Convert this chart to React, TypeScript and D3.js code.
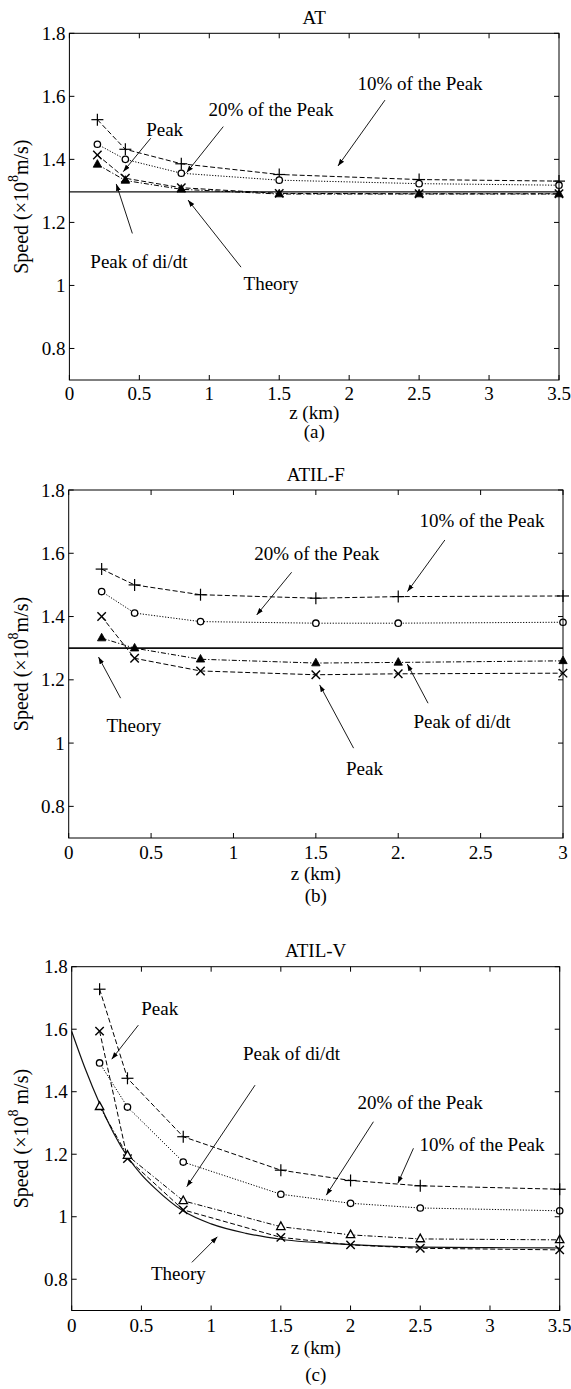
import React from 'react';
import * as d3 from 'd3';

const W = 571;
const H = 1389;

// ---- (a) AT ----
const zAT = [0.2, 0.4, 0.8, 1.5, 2.5, 3.5];
const atTenPct = [1.526, 1.432, 1.386, 1.352, 1.336, 1.331];
const atTwentyPct = [1.448, 1.4, 1.356, 1.334, 1.323, 1.318];
const atPeak = [1.414, 1.34, 1.31, 1.292, 1.291, 1.291];
const atDidt = [1.384, 1.333, 1.305, 1.29, 1.29, 1.29];
const atTheory = 1.297;

// ---- (b) ATIL-F ----
const zATILF = [0.2, 0.4, 0.8, 1.5, 2.0, 3.0];
const fTenPct = [1.55, 1.5, 1.469, 1.458, 1.463, 1.465];
const fTwentyPct = [1.479, 1.411, 1.384, 1.379, 1.379, 1.382];
const fPeak = [1.4, 1.268, 1.228, 1.216, 1.219, 1.221];
const fDidt = [1.332, 1.3, 1.265, 1.253, 1.255, 1.26];
const fTheory = 1.3;

// ---- (c) ATIL-V ----
const zATILV = [0.2, 0.4, 0.8, 1.5, 2.0, 2.5, 3.5];
const vTenPct = [1.728, 1.443, 1.256, 1.149, 1.116, 1.099, 1.088];
const vTwentyPct = [1.492, 1.351, 1.175, 1.072, 1.043, 1.028, 1.019];
const vPeak = [1.594, 1.186, 1.022, 0.934, 0.91, 0.899, 0.894];
const vDidt = [1.352, 1.196, 1.051, 0.968, 0.942, 0.929, 0.926];
const zTheoryV = [0, 0.1, 0.2, 0.3, 0.4, 0.5, 0.6, 0.8, 1.0, 1.25, 1.5, 2.0, 2.5, 3.0, 3.5];
const vTheory = [1.593, 1.47, 1.362, 1.268, 1.192, 1.135, 1.09, 1.018, 0.977, 0.947, 0.928, 0.911, 0.903, 0.901, 0.9];

const yTicks = [0.8, 1, 1.2, 1.4, 1.6, 1.8];
const xTicksAT = [0, 0.5, 1, 1.5, 2, 2.5, 3, 3.5];
const xTicksF = [0, 0.5, 1, 1.5, 2, 2.5, 3];
const xTickLabelsF = ['0', '0.5', '1', '1.5', '2.', '2.5', '3'];

const FONT = '"Liberation Serif", "Times New Roman", serif';

type MarkerKind = 'plus' | 'circle' | 'cross' | 'tri' | 'triOpen';
type Series = { z: number[]; v: number[]; marker: MarkerKind; dash: string };
type Note = { text: string; tx: number; ty: number; ax: number; ay: number; bx: number; by: number };

type PanelSpec = {
  title: string;
  caption: string;
  ylabelSpace: boolean;
  xMax: number;
  xTicks: number[];
  xTickLabels?: string[];
  px: [number, number];
  py: [number, number];
  series: Series[];
  theory: { z: number[]; v: number[] };
  theoryWidth: number;
  notes: Note[];
  offs: [number, number, number];
};

const panels: PanelSpec[] = [
  {
    title: 'AT',
    caption: '(a)',
    ylabelSpace: false,
    xMax: 3.5,
    xTicks: xTicksAT,
    px: [69.4, 559],
    py: [380, 33.3],
    series: [
      { z: zAT, v: atTenPct, marker: 'plus', dash: '5,2.5' },
      { z: zAT, v: atTwentyPct, marker: 'circle', dash: '1.2,1.6' },
      { z: zAT, v: atPeak, marker: 'cross', dash: '5,2.5' },
      { z: zAT, v: atDidt, marker: 'tri', dash: '5,2,1.2,2' },
    ],
    theory: { z: [0, 3.5], v: [atTheory, atTheory] },
    theoryWidth: 1.1,
    notes: [
      { text: '10% of the Peak', tx: 2.507, ty: 1.642, ax: 2.256, ay: 1.588, bx: 1.92, by: 1.379 },
      { text: '20% of the Peak', tx: 1.441, ty: 1.557, ax: 1.1, ay: 1.504, bx: 0.838, by: 1.358 },
      { text: 'Peak', tx: 0.681, ty: 1.496, ax: 0.581, ay: 1.467, bx: 0.385, by: 1.361 },
      { text: 'Peak of di/dt', tx: 0.497, ty: 1.075, ax: 0.45, ay: 1.165, bx: 0.335, by: 1.322 },
      { text: 'Theory', tx: 1.441, ty: 1.007, ax: 1.227, ay: 1.058, bx: 0.848, by: 1.271 },
    ],
    offs: [13, 32, 51],
  },
  {
    title: 'ATIL-F',
    caption: '(b)',
    ylabelSpace: false,
    xMax: 3,
    xTicks: xTicksF,
    xTickLabels: xTickLabelsF,
    px: [68.7, 563],
    py: [838, 490],
    series: [
      { z: zATILF, v: fTenPct, marker: 'plus', dash: '5,2.5' },
      { z: zATILF, v: fTwentyPct, marker: 'circle', dash: '1.2,1.6' },
      { z: zATILF, v: fPeak, marker: 'cross', dash: '5,2.5' },
      { z: zATILF, v: fDidt, marker: 'tri', dash: '5,2,1.2,2' },
    ],
    theory: { z: [0, 3], v: [fTheory, fTheory] },
    theoryWidth: 1.8,
    notes: [
      { text: '10% of the Peak', tx: 2.508, ty: 1.705, ax: 2.283, ay: 1.642, bx: 2.056, by: 1.479 },
      { text: '20% of the Peak', tx: 1.505, ty: 1.598, ax: 1.353, ay: 1.54, bx: 1.141, by: 1.405 },
      { text: 'Theory', tx: 0.396, ty: 1.057, ax: 0.315, ay: 1.142, bx: 0.181, by: 1.272 },
      { text: 'Peak', tx: 1.795, ty: 0.92, ax: 1.729, ay: 0.984, bx: 1.523, by: 1.184 },
      { text: 'Peak of di/dt', tx: 2.387, ty: 1.068, ax: 2.181, ay: 1.126, bx: 2.055, by: 1.25 },
    ],
    offs: [14, 35, 57],
  },
  {
    title: 'ATIL-V',
    caption: '(c)',
    ylabelSpace: true,
    xMax: 3.5,
    xTicks: xTicksAT,
    px: [71.7, 559.7],
    py: [1310.5, 966.7],
    series: [
      { z: zATILV, v: vTenPct, marker: 'plus', dash: '5,2.5' },
      { z: zATILV, v: vTwentyPct, marker: 'circle', dash: '1.2,1.6' },
      { z: zATILV, v: vPeak, marker: 'cross', dash: '5,2.5' },
      { z: zATILV, v: vDidt, marker: 'triOpen', dash: '5,2,1.2,2' },
    ],
    theory: { z: zTheoryV, v: vTheory },
    theoryWidth: 1.2,
    notes: [
      { text: 'Peak', tx: 0.631, ty: 1.667, ax: 0.478, ay: 1.613, bx: 0.287, by: 1.504 },
      { text: 'Peak of di/dt', tx: 1.577, ty: 1.523, ax: 1.315, ay: 1.421, bx: 0.825, by: 1.096 },
      { text: '20% of the Peak', tx: 2.499, ty: 1.365, ax: 2.164, ay: 1.304, bx: 1.826, by: 1.069 },
      { text: '10% of the Peak', tx: 2.943, ty: 1.232, ax: 2.451, ay: 1.219, bx: 2.339, by: 1.107 },
      { text: 'Theory', tx: 0.765, ty: 0.819, ax: 0.862, ay: 0.854, bx: 1.045, by: 0.936 },
    ],
    offs: [15, 37, 64],
  },
];

function Marker({ kind, x, y }: { kind: MarkerKind; x: number; y: number }) {
  const s = { stroke: '#000', strokeWidth: 1.2, fill: 'none' };
  if (kind === 'plus') {
    const r = 6;
    return (
      <g {...s}>
        <line x1={x - r} y1={y} x2={x + r} y2={y} />
        <line x1={x} y1={y - r} x2={x} y2={y + r} />
      </g>
    );
  }
  if (kind === 'cross') {
    const r = 4.2;
    return (
      <g {...s} strokeWidth={1.4}>
        <line x1={x - r} y1={y - r} x2={x + r} y2={y + r} />
        <line x1={x - r} y1={y + r} x2={x + r} y2={y - r} />
      </g>
    );
  }
  if (kind === 'circle') {
    return <circle cx={x} cy={y} r={3.2} {...s} strokeWidth={1.3} fill="#fff" />;
  }
  const pts = `${x},${y - 4.8} ${x - 4.2},${y + 2.8} ${x + 4.2},${y + 2.8}`;
  if (kind === 'tri') return <polygon points={pts} fill="#000" stroke="#000" strokeWidth={0.8} />;
  return <polygon points={pts} fill="#fff" stroke="#000" strokeWidth={1.3} />;
}

function Panel({ p, idx }: { p: PanelSpec; idx: number }) {
  const x = d3.scaleLinear().domain([0, p.xMax]).range(p.px);
  const y = d3.scaleLinear().domain([0.7, 1.8]).range(p.py);
  const [left, right] = p.px;
  const [bottom, top] = p.py;
  const tick = 5;
  const line = d3
    .line<[number, number]>()
    .x((d) => x(d[0]))
    .y((d) => y(d[1]));
  const theoryLine = d3
    .line<[number, number]>()
    .x((d) => x(d[0]))
    .y((d) => y(d[1]))
    .curve(d3.curveMonotoneX);
  const fmtY = (v: number) => String(+v.toFixed(1));
  const fmtX = (v: number, i: number) => (p.xTickLabels ? p.xTickLabels[i] : String(+v.toFixed(1)));
  const midY = (top + bottom) / 2;
  const midX = (left + right) / 2;
  const markerId = `arrow${idx}`;
  return (
    <g fontFamily={FONT} fill="#000">
      <defs>
        <marker id={markerId} viewBox="0 0 10 10" refX="10" refY="5" markerWidth="7" markerHeight="7" orient="auto" markerUnits="userSpaceOnUse">
          <path d="M0,1.5 L10,5 L0,8.5 Z" fill="#000" />
        </marker>
      </defs>
      {/* theory */}
      <path
        d={theoryLine(p.theory.z.map((z, i) => [z, p.theory.v[i]] as [number, number])) || ''}
        fill="none"
        stroke="#111"
        strokeWidth={p.theoryWidth}
      />
      {/* measured series */}
      {p.series.map((s, si) => (
        <g key={si}>
          <path
            d={line(s.z.map((z, i) => [z, s.v[i]] as [number, number])) || ''}
            fill="none"
            stroke="#000"
            strokeWidth={1}
            strokeDasharray={s.dash}
          />
          {s.z.map((z, i) => (
            <Marker key={i} kind={s.marker} x={x(z)} y={y(s.v[i])} />
          ))}
        </g>
      ))}
      {/* box and ticks */}
      <rect x={left} y={top} width={right - left} height={bottom - top} fill="none" stroke="#000" strokeWidth={1} />
      {p.xTicks.map((t, i) => (
        <g key={`xt${i}`} stroke="#000" strokeWidth={1}>
          <line x1={x(t)} x2={x(t)} y1={bottom} y2={bottom - tick} />
          <line x1={x(t)} x2={x(t)} y1={top} y2={top + tick} />
        </g>
      ))}
      {yTicks.map((t, i) => (
        <g key={`yt${i}`} stroke="#000" strokeWidth={1}>
          <line x1={left} x2={left + tick} y1={y(t)} y2={y(t)} />
          <line x1={right} x2={right - tick} y1={y(t)} y2={y(t)} />
        </g>
      ))}
      {p.xTicks.map((t, i) => (
        <text key={`xl${i}`} x={x(t)} y={bottom + p.offs[0]} fontSize={19} textAnchor="middle" dominantBaseline="central">
          {fmtX(t, i)}
        </text>
      ))}
      {yTicks.map((t, i) => (
        <text key={`yl${i}`} x={left - 4} y={y(t)} fontSize={19} textAnchor="end" dominantBaseline="central">
          {fmtY(t)}
        </text>
      ))}
      {/* annotations */}
      {p.notes.map((n, i) => (
        <g key={`n${i}`}>
          <line
            x1={x(n.ax)}
            y1={y(n.ay)}
            x2={x(n.bx)}
            y2={y(n.by)}
            stroke="#000"
            strokeWidth={0.9}
            markerEnd={`url(#${markerId})`}
          />
          <text x={x(n.tx)} y={y(n.ty)} fontSize={19} textAnchor="middle" dominantBaseline="central">
            {n.text}
          </text>
        </g>
      ))}
      {/* titles and labels */}
      <text x={midX} y={top - 16} fontSize={19} textAnchor="middle" dominantBaseline="central">
        {p.title}
      </text>
      <text x={midX} y={bottom + p.offs[1]} fontSize={19} textAnchor="middle" dominantBaseline="central">
        z (km)
      </text>
      <text x={midX} y={bottom + p.offs[2]} fontSize={19} textAnchor="middle" dominantBaseline="central">
        {p.caption}
      </text>
      <text
        transform={`translate(21,${midY}) rotate(-90)`}
        fontSize={20}
        textAnchor="middle"
        dominantBaseline="central"
      >
        Speed (×10
        <tspan fontSize={14} dy={-8}>
          8
        </tspan>
        <tspan dy={8}>{p.ylabelSpace ? ' m/s)' : 'm/s)'}</tspan>
      </text>
    </g>
  );
}

export default function App() {
  return (
    <svg
      width={W}
      height={H}
      viewBox={`0 0 ${W} ${H}`}
      style={{ position: 'absolute', left: 0, top: 0, background: '#fff' }}
    >
      <rect width={W} height={H} fill="#fff" />
      {panels.map((p, i) => (
        <Panel key={i} p={p} idx={i} />
      ))}
    </svg>
  );
}
